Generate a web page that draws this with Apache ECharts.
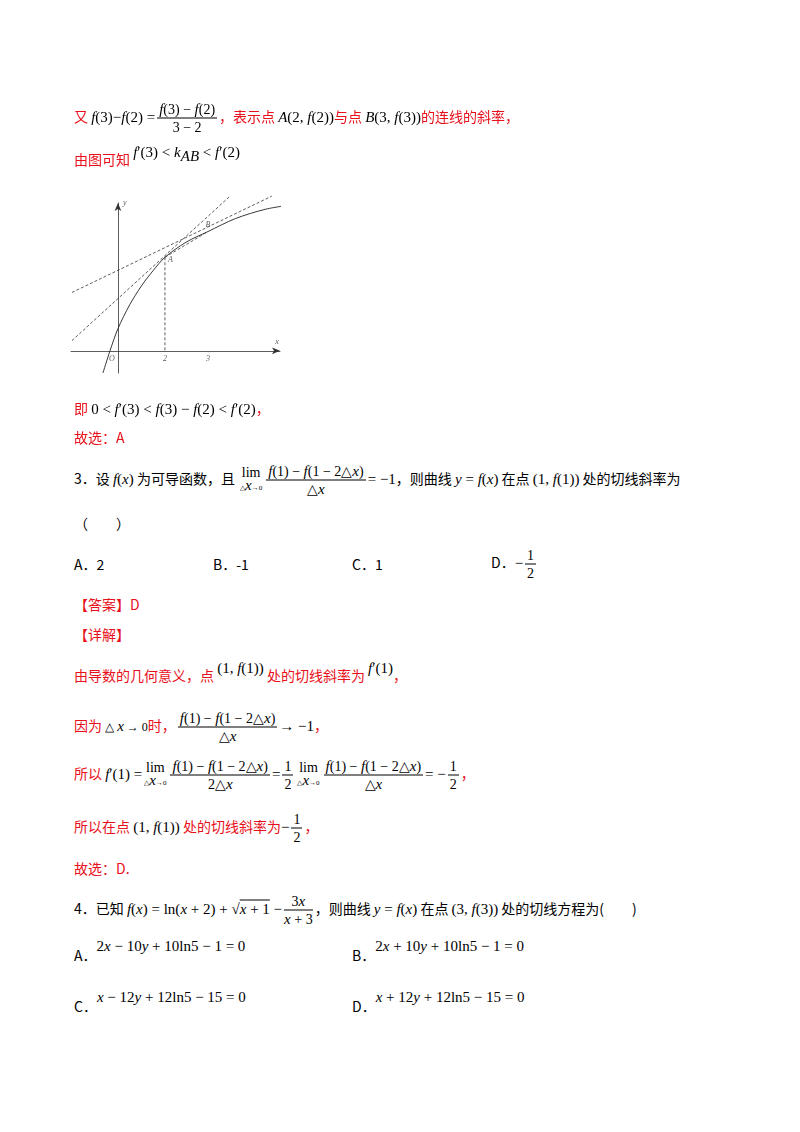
<!DOCTYPE html>
<html><head><meta charset="utf-8">
<script src="https://cdn.jsdelivr.net/npm/echarts@6/dist/echarts.min.js"></script>
<style>
body{margin:0;background:#fff;font-family:"Noto Sans CJK SC",sans-serif;font-size:14px;color:#000}
.l{position:absolute;left:74px;white-space:nowrap;line-height:20px;transform:translateY(-50%)}
.r{color:#e8101a}
.k{color:#000}
i,.m{font-family:"Liberation Serif",serif;font-size:15px;color:#000}
i{font-style:italic}
.f{display:inline-flex;flex-direction:column;vertical-align:middle;text-align:center;font-family:"Liberation Serif",serif;font-size:14px;line-height:17px;margin:0 2px;color:#000}
.f>span:first-child{border-bottom:1px solid #000;padding:0 2px}
.lim{display:inline-flex;flex-direction:column;vertical-align:middle;text-align:center;font-family:"Liberation Serif",serif;line-height:12px;margin:0 2px;color:#000}
.lim small{font-size:7px}
#chart{position:absolute;left:0;top:0;width:800px;height:420px}
</style></head><body>
<div id="chart"></div>
<div class="l r" style="top:118px">又 <i>f</i><span class="m">(3)−</span><i>f</i><span class="m">(2) =</span><span class="f"><span><i>f</i>(3) − <i>f</i>(2)</span><span>3 − 2</span></span>，表示点 <i>A</i><span class="m">(2, </span><i>f</i><span class="m">(2))</span>与点 <i>B</i><span class="m">(3, </span><i>f</i><span class="m">(3))</span>的连线的斜率，</div>
<div class="l r" style="top:162px">由图可知 <span style="position:relative;top:-8px" class="k"><i>f</i><span class="m">′(3) &lt; </span><i>k</i><sub style="font-size:8px"><i>AB</i></sub><span class="m"> &lt; </span><i>f</i><span class="m">′(2)</span></span></div>
<div class="l r" style="top:408px">即 <span class="m">0 &lt; <i>f</i>′(3) &lt; <i>f</i>(3) − <i>f</i>(2) &lt; <i>f</i>′(2)</span>，</div>
<div class="l r" style="top:437px">故选：A</div>
<div class="l" style="top:480px">3．设 <i>f</i><span class="m">(</span><i>x</i><span class="m">)</span> 为可导函数，且 <span class="lim"><span>lim</span><small>△<i>x</i>→0</small></span><span class="f"><span><i>f</i>(1) − <i>f</i>(1 − 2△<i>x</i>)</span><span>△<i>x</i></span></span><span class="m">= −1</span>，则曲线 <i>y</i><span class="m"> = </span><i>f</i><span class="m">(</span><i>x</i><span class="m">)</span> 在点 <span class="m">(1, </span><i>f</i><span class="m">(1))</span> 处的切线斜率为</div>
<div class="l" style="top:523px">（　　）</div>
<div class="l" style="top:564px">A．2</div>
<div class="l" style="top:564px;left:213px">B．-1</div>
<div class="l" style="top:564px;left:352px">C．1</div>
<div class="l" style="top:564px;left:491px">D．<span class="m">−</span><span class="f"><span>1</span><span>2</span></span></div>
<div class="l r" style="top:604px">【答案】D</div>
<div class="l r" style="top:634px">【详解】</div>
<div class="l r" style="top:675px">由导数的几何意义，点 <span style="position:relative;top:-8px" class="m">(1, <i>f</i>(1))</span> 处的切线斜率为 <span style="position:relative;top:-8px"><i>f</i><span class="m">′(1)</span></span>，</div>
<div class="l r" style="top:727px">因为 <span class="m" style="font-size:12px">△ <i>x</i> → 0</span>时，<span class="f"><span><i>f</i>(1) − <i>f</i>(1 − 2△<i>x</i>)</span><span>△<i>x</i></span></span><span class="m">→ −1</span>，</div>
<div class="l r" style="top:775px">所以 <span class="m"><i>f</i>′(1) =</span><span class="lim"><span>lim</span><small>△<i>x</i>→0</small></span><span class="f"><span><i>f</i>(1) − <i>f</i>(1 − 2△<i>x</i>)</span><span>2△<i>x</i></span></span><span class="m">=</span><span class="f"><span>1</span><span>2</span></span><span class="lim"><span>lim</span><small>△<i>x</i>→0</small></span><span class="f"><span><i>f</i>(1) − <i>f</i>(1 − 2△<i>x</i>)</span><span>△<i>x</i></span></span><span class="m">= −</span><span class="f"><span>1</span><span>2</span></span>，</div>
<div class="l r" style="top:828px">所以在点 <span class="m">(1, <i>f</i>(1))</span> 处的切线斜率为<span class="m">−</span><span class="f"><span>1</span><span>2</span></span>，</div>
<div class="l r" style="top:868px">故选：D.</div>
<div class="l" style="top:910px">4．已知 <span class="m"><i>f</i>(<i>x</i>) = ln(<i>x</i> + 2) + √<span style="text-decoration:overline"><i>x</i> + 1</span> −</span><span class="f"><span>3<i>x</i></span><span><i>x</i> + 3</span></span>，则曲线 <i>y</i><span class="m"> = </span><i>f</i><span class="m">(</span><i>x</i><span class="m">)</span> 在点 <span class="m">(3, </span><i>f</i><span class="m">(3))</span> 处的切线方程为(　　)</div>
<div class="l" style="top:955px">A．<span class="m" style="position:relative;top:-10px">2<i>x</i> − 10<i>y</i> + 10ln5 − 1 = 0</span></div>
<div class="l" style="top:955px;left:352px">B．<span class="m" style="position:relative;top:-10px">2<i>x</i> + 10<i>y</i> + 10ln5 − 1 = 0</span></div>
<div class="l" style="top:1006px">C．<span class="m" style="position:relative;top:-10px"><i>x</i> − 12<i>y</i> + 12ln5 − 15 = 0</span></div>
<div class="l" style="top:1006px;left:352px">D．<span class="m" style="position:relative;top:-10px"><i>x</i> + 12<i>y</i> + 12ln5 − 15 = 0</span></div>
<script>
// 曲线 y = f(x) 上的点
var curve = [[-0.64,-0.94],[-0.34,0],[0,0.94],[0.5,1.95],[1,2.75],[1.5,3.4],[2,3.96],[2.9,4.6],[3.83,5.05],[5,5.6],[6.3,6.0],[7.5,6.2]];
var tangentA = [[-1.96,0.43],[4.77,6.55]];
var tangentB = [[-1.96,2.47],[6.55,6.55]];
var secantAB = [[2,3.96],[3.83,5.05]];
var pointA = [2,3.96], pointB = [3.83,5.05];
var tickValues = [2, 3.83];
var tickLabels = ['2', '3'];

var chart = echarts.init(document.getElementById('chart'));
var dash = {color:'#333', width:0.8, type:[3,2]};
var lbl = {fontFamily:'Liberation Serif', fontStyle:'italic', fontSize:8, color:'#333'};
var points = [
  {value:pointA, label:{show:true, formatter:'A', position:'right', offset:[-2,3]}},
  {value:pointB, label:{show:true, formatter:'B', position:'top', offset:[0,2]}},
  {value:[0,0], label:{show:true, formatter:'O', position:'bottom', offset:[-6,-1]}},
  {value:[0,6.26], label:{show:true, formatter:'y', position:'right', offset:[0,0]}},
  {value:[6.9,0], label:{show:true, formatter:'x', position:'top', offset:[-3,0]}}
];
tickValues.forEach(function(v, i) {
  points.push({value:[v,0], label:{show:true, formatter:tickLabels[i], position:'bottom', offset:[0,-1]}});
});
chart.setOption({
  animation:false,
  grid:{left:71, top:203, width:209, height:170},
  xAxis:{type:'value', min:-2, max:6.9, splitLine:{show:false},
    axisLine:{onZero:true, lineStyle:{color:'#333', width:0.8}, symbol:['none','arrow'], symbolSize:[5,8]},
    axisTick:{show:false}, axisLabel:{show:false}},
  yAxis:{type:'value', min:-0.94, max:6.26, splitLine:{show:false},
    axisLine:{onZero:true, lineStyle:{color:'#333', width:0.8}, symbol:['none','arrow'], symbolSize:[5,8]},
    axisTick:{show:false}, axisLabel:{show:false}},
  series:[
    {type:'line', data:curve, smooth:0.3, symbol:'none', clip:false, lineStyle:{color:'#222', width:0.9}},
    {type:'line', data:tangentA, symbol:'none', clip:false, lineStyle:dash},
    {type:'line', data:tangentB, symbol:'none', clip:false, lineStyle:dash},
    {type:'line', data:secantAB, symbol:'none', clip:false, lineStyle:dash},
    {type:'line', data:[pointA,[2,0]], symbol:'none', lineStyle:dash},
    {type:'scatter', symbolSize:0, clip:false, data:points, label:lbl}
  ]
});
</script>
</body></html>
